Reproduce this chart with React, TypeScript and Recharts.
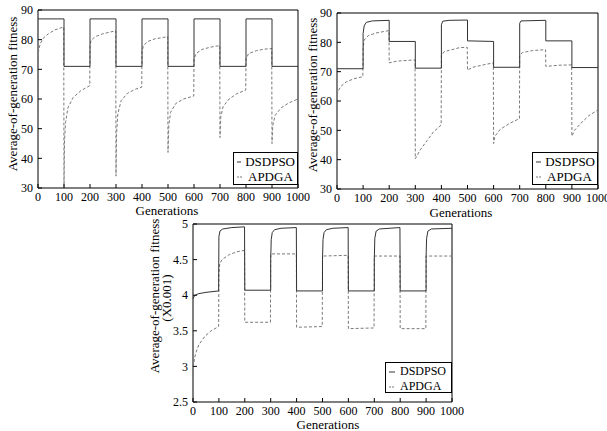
import React from "react";
import { LineChart, Line, XAxis, YAxis, ReferenceArea, Legend } from "recharts";

type Pt = [number, number];

const generationTicks = [0, 100, 200, 300, 400, 500, 600, 700, 800, 900, 1000];
const fitnessTicksTop = [30, 40, 50, 60, 70, 80, 90];
const fitnessTicksBottom = [2.5, 3, 3.5, 4, 4.5, 5];
const seriesNames = ["DSDPSO", "APDGA"];

// top-left panel
const dsdpso1: Pt[] = [
  [0, 87], [100, 87], [100, 71], [200, 71], [200, 87], [300, 87], [300, 71], [400, 71],
  [400, 87], [500, 87], [500, 71], [600, 71], [600, 87], [700, 87], [700, 71], [800, 71],
  [800, 87], [900, 87], [900, 71], [1000, 71],
];
const apdga1: Pt[] = [
  [0, 57], [2, 76], [8, 78.5], [20, 80.5], [40, 82], [65, 83.3], [99, 84.3],
  [100, 30], [102, 46], [106, 52], [115, 57], [135, 60.5], [165, 62.8], [199, 64.5],
  [200, 78], [204, 79.8], [220, 81], [250, 82], [299, 83],
  [300, 34], [302, 48], [307, 55], [320, 59.5], [345, 62], [375, 63.3], [399, 64],
  [400, 76], [405, 77.8], [420, 79.3], [450, 80.3], [499, 81],
  [500, 42], [503, 51], [510, 55.5], [530, 58.5], [560, 60], [599, 61],
  [600, 73.5], [608, 75.3], [630, 76.7], [665, 77.5], [699, 78],
  [700, 47], [703, 54], [712, 57.5], [735, 60], [765, 61.8], [799, 63],
  [800, 73.5], [810, 75.3], [840, 76.3], [870, 76.8], [899, 77],
  [900, 45], [903, 51], [912, 54.5], [935, 57], [965, 58.7], [1000, 60],
];

// top-right panel
const dsdpso2: Pt[] = [
  [0, 71], [100, 71], [100, 83], [104, 85.6], [112, 86.8], [135, 87.3], [200, 87.5],
  [200, 80.3], [300, 80.3], [300, 71.2], [400, 71.2],
  [400, 86], [405, 87.2], [430, 87.5], [500, 87.6],
  [500, 80.5], [600, 80.3], [600, 71.5], [700, 71.5],
  [700, 86.5], [705, 87.3], [800, 87.5],
  [800, 80.5], [900, 80.5], [900, 71.4], [1000, 71.4],
];
const apdga2: Pt[] = [
  [0, 62], [5, 63.5], [15, 65], [35, 66.5], [65, 67.6], [99, 68.3],
  [100, 78], [104, 80.8], [120, 82.3], [150, 83.2], [199, 84],
  [200, 73], [230, 73.6], [299, 74],
  [300, 40.3], [320, 43.5], [345, 46.5], [370, 49.5], [399, 51.8],
  [400, 75.5], [410, 76.8], [440, 77.5], [470, 78.2], [499, 78.3],
  [500, 70.5], [520, 71.5], [560, 72.3], [599, 73],
  [600, 45.5], [605, 48], [625, 50.3], [660, 52.3], [699, 54],
  [700, 75.5], [710, 76.5], [750, 77.2], [799, 77.5],
  [800, 71.8], [850, 72.2], [899, 72.3],
  [900, 48], [910, 50], [935, 52.5], [965, 55], [1000, 57],
];

// bottom panel (x0.001)
const dsdpso3: Pt[] = [
  [0, 3.95], [5, 3.99], [20, 4.02], [50, 4.04], [99, 4.06],
  [100, 4.82], [104, 4.9], [115, 4.93], [150, 4.95], [199, 4.96],
  [200, 4.07], [300, 4.07],
  [300, 4.5], [302, 4.78], [306, 4.88], [315, 4.92], [340, 4.94], [399, 4.95],
  [400, 4.06], [500, 4.06],
  [500, 4.5], [502, 4.78], [506, 4.88], [515, 4.92], [540, 4.94], [599, 4.95],
  [600, 4.06], [700, 4.06],
  [700, 4.5], [702, 4.8], [707, 4.9], [720, 4.93], [799, 4.95],
  [800, 4.06], [900, 4.06],
  [900, 4.55], [902, 4.8], [907, 4.9], [920, 4.93], [1000, 4.94],
];
const apdga3: Pt[] = [
  [0, 2.92], [3, 3.05], [10, 3.18], [22, 3.3], [45, 3.42], [70, 3.5], [99, 3.56],
  [100, 4.3], [103, 4.44], [112, 4.5], [140, 4.57], [170, 4.61], [199, 4.63],
  [200, 3.62], [299, 3.62], [300, 4.58], [399, 4.58], [400, 3.55], [499, 3.56],
  [500, 4.55], [599, 4.56], [600, 3.53], [699, 3.54], [700, 4.55], [799, 4.55],
  [800, 3.53], [899, 3.53], [900, 4.55], [1000, 4.55],
];

const FONT = '"Liberation Serif", "DejaVu Serif", serif';
const DS_COLOR = "#333333";
const AP_COLOR = "#7a7a7a";
const AP_DASH = "3 2";

const toRows = (pts: Pt[]) => pts.map(([gen, fit]) => ({ gen, fit }));

const LegendBox = ({ fontSize }: { fontSize: number }) => (
  <div
    style={{
      border: "1px solid #000",
      background: "#fff",
      fontFamily: FONT,
      fontSize,
      lineHeight: "15px",
      padding: "1px 2px",
      boxSizing: "border-box",
      width: "100%",
      height: "100%",
    }}
  >
    {seriesNames.map((name, i) => (
      <div key={name} style={{ display: "flex", alignItems: "center", whiteSpace: "nowrap" }}>
        <svg width={8} height={6} style={{ marginRight: 4 }}>
          <line
            x1={1} y1={3} x2={7} y2={3}
            stroke={i === 0 ? DS_COLOR : AP_COLOR}
            strokeDasharray={i === 0 ? undefined : "2 1"}
          />
        </svg>
        <span>{name}</span>
      </div>
    ))}
  </div>
);

interface PanelProps {
  left: number;
  top: number;
  width: number;
  height: number;
  margin: { top: number; right: number; bottom: number; left: number };
  yWidth: number;
  xHeight: number;
  yDomain: [number, number];
  yTicks: number[];
  dsdpso: Pt[];
  apdga: Pt[];
  legend: { left: number; top: number; width: number; height: number; fontSize: number };
}

const Panel = (p: PanelProps) => {
  const tickStyle = { fontSize: 12, fontFamily: FONT, fill: "#000" };
  return (
    <div style={{ position: "absolute", left: p.left, top: p.top }}>
      <LineChart width={p.width} height={p.height} margin={p.margin} style={{ overflow: "visible" }}>
        <XAxis
          dataKey="gen"
          type="number"
          domain={[0, 1000]}
          ticks={generationTicks}
          height={p.xHeight}
          axisLine={false}
          tickSize={4}
          tickMargin={0}
          tickLine={{ stroke: "#000", transform: "translate(0,-4)" }}
          tick={tickStyle}
          interval={0}
          allowDuplicatedCategory={false}
        />
        <YAxis
          dataKey="fit"
          type="number"
          domain={p.yDomain}
          ticks={p.yTicks}
          width={p.yWidth}
          axisLine={false}
          tickSize={4}
          tickMargin={1}
          tickLine={{ stroke: "#000", transform: "translate(4,0)" }}
          tick={tickStyle}
          interval={0}
        />
        <ReferenceArea
          x1={0}
          x2={1000}
          y1={p.yDomain[0]}
          y2={p.yDomain[1]}
          fill="none"
          stroke="#000"
          strokeWidth={1}
        />
        <Line
          data={toRows(p.apdga)}
          dataKey="fit"
          name="APDGA"
          type="linear"
          stroke={AP_COLOR}
          strokeWidth={1}
          strokeDasharray={AP_DASH}
          dot={false}
          isAnimationActive={false}
        />
        <Line
          data={toRows(p.dsdpso)}
          dataKey="fit"
          name="DSDPSO"
          type="linear"
          stroke={DS_COLOR}
          strokeWidth={1}
          dot={false}
          isAnimationActive={false}
        />
        {/* horizontal + middle + center keeps the legend out of the plot offset */}
        <Legend
          layout="horizontal"
          verticalAlign="middle"
          align="center"
          content={() => <LegendBox fontSize={p.legend.fontSize} />}
          wrapperStyle={{
            position: "absolute",
            left: p.legend.left,
            top: p.legend.top,
            width: p.legend.width,
            height: p.legend.height,
            bottom: "auto",
            right: "auto",
          }}
        />
      </LineChart>
    </div>
  );
};

const Title = ({ text, cx, cy, rotate, size }: { text: string; cx: number; cy: number; rotate?: boolean; size: number }) => (
  <div
    style={{
      position: "absolute",
      left: cx,
      top: cy,
      transform: `translate(-50%, -50%)${rotate ? " rotate(-90deg)" : ""}`,
      fontFamily: FONT,
      fontSize: size,
      whiteSpace: "nowrap",
      lineHeight: 1,
      color: "#000",
    }}
  >
    {text}
  </div>
);

export default function App() {
  return (
    <div
      style={{
        position: "absolute",
        left: 0,
        top: 0,
        width: 607,
        height: 431,
        background: "#fff",
        overflow: "hidden",
      }}
    >
      <Panel
        left={0}
        top={0}
        width={310}
        height={215}
        margin={{ top: 10, right: 12, bottom: 0, left: 0 }}
        yWidth={38}
        xHeight={27}
        yDomain={[30, 90]}
        yTicks={fitnessTicksTop}
        dsdpso={dsdpso1}
        apdga={apdga1}
        legend={{ left: 233, top: 152, width: 65, height: 33, fontSize: 13 }}
      />
      <Panel
        left={300}
        top={0}
        width={307}
        height={215}
        margin={{ top: 13, right: 9, bottom: 0, left: 0 }}
        yWidth={37}
        xHeight={26}
        yDomain={[30, 90]}
        yTicks={fitnessTicksTop}
        dsdpso={dsdpso2}
        apdga={apdga2}
        legend={{ left: 232, top: 152, width: 66, height: 33, fontSize: 13 }}
      />
      <Panel
        left={150}
        top={210}
        width={320}
        height={221}
        margin={{ top: 14, right: 18, bottom: 0, left: 0 }}
        yWidth={43}
        xHeight={29}
        yDomain={[2.5, 5]}
        yTicks={fitnessTicksBottom}
        dsdpso={dsdpso3}
        apdga={apdga3}
        legend={{ left: 235, top: 152, width: 67, height: 31, fontSize: 12 }}
      />
      <Title text="Average-of-generation fitness" cx={12} cy={94} rotate size={13} />
      <Title text="Generations" cx={167} cy={210} size={13} />
      <Title text="Average-of-generation fitness" cx={312} cy={95} rotate size={13} />
      <Title text="Generations" cx={461} cy={212} size={13} />
      <Title text="Average-of-generation fitness" cx={154} cy={296} rotate size={13} />
      <Title text="(X0.001)" cx={166} cy={298} rotate size={13} />
      <Title text="Generations" cx={328} cy={424} size={13} />
    </div>
  );
}
